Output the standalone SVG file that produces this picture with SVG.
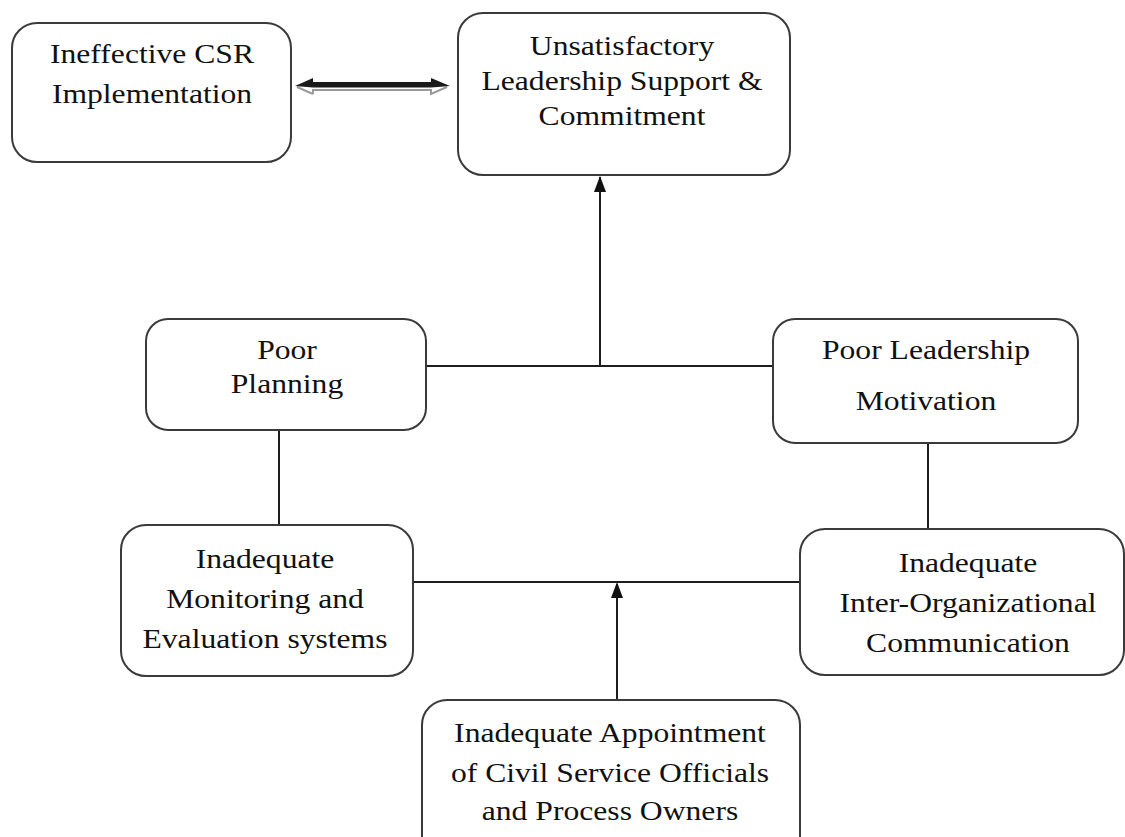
<svg xmlns="http://www.w3.org/2000/svg" width="1125" height="837" viewBox="0 0 1125 837">
  <defs>
    <style>
      .box { fill: #ffffff; stroke: #3a3a3a; stroke-width: 2; }
      .lbl { font-family: "Liberation Serif", "Times New Roman", serif; font-size: 28px; fill: #111111; text-anchor: middle; }
      .link { stroke: #1e1e1e; stroke-width: 2; fill: none; }
    </style>
    <marker id="head" viewBox="0 0 12 14" refX="6" refY="1" markerWidth="12" markerHeight="14" markerUnits="userSpaceOnUse" orient="auto-start-reverse">
      <path d="M6 0 L12 14 L0 14 Z" fill="#111111"/>
    </marker>
  </defs>

  <rect width="1125" height="837" fill="#ffffff"/>

  <!-- connectors -->
  <g id="connectors">
    <!-- two-way block arrow between the top boxes -->
    <g id="double-arrow">
      <polyline points="313,94 297,87" fill="none" stroke="#9a9a9a" stroke-width="2"/>
      <polyline points="313,94 313,90 431,90 431,94 447,87" fill="none" stroke="#9a9a9a" stroke-width="2"/>
      <polygon points="295,86 313,78 313,82 431,82 431,78 450,86 431,87.5 313,87.5" fill="#1a1a1a"/>
    </g>
    <!-- upper junction: Poor Planning / Poor Leadership Motivation -> leadership support -->
    <line class="link" x1="426" y1="366" x2="774" y2="366"/>
    <line class="link" x1="600" y1="366" x2="600" y2="177"/>
    <path d="M600 176 L606 192 L594 192 Z" fill="#111111"/>
    <!-- vertical ties to the lower boxes -->
    <line class="link" x1="279" y1="430" x2="279" y2="525" stroke="#555555"/>
    <line class="link" x1="928" y1="443" x2="928" y2="528"/>
    <!-- lower junction -->
    <line class="link" x1="413" y1="582" x2="800" y2="582"/>
    <line class="link" x1="617" y1="700" x2="617" y2="584"/>
    <path d="M617 582 L623 598 L611 598 Z" fill="#111111"/>
  </g>

  <g id="node-csr">
    <rect class="box" x="12" y="23" width="279" height="139" rx="25"/>
    <text class="lbl" transform="translate(152 0) scale(1.13 1)"><tspan x="0" y="63">Ineffective CSR</tspan><tspan x="0" y="103">Implementation</tspan></text>
  </g>

  <g id="node-leadership-support">
    <rect class="box" x="458" y="13" width="332" height="162" rx="25"/>
    <text class="lbl" transform="translate(622 0) scale(1.13 1)"><tspan x="0" y="55">Unsatisfactory</tspan><tspan x="0" y="90">Leadership Support &amp;</tspan><tspan x="0" y="125">Commitment</tspan></text>
  </g>

  <g id="node-poor-planning">
    <rect class="box" x="146" y="319" width="280" height="111" rx="22"/>
    <text class="lbl" transform="translate(287 0) scale(1.13 1)"><tspan x="0" y="359">Poor</tspan><tspan x="0" y="393">Planning</tspan></text>
  </g>

  <g id="node-poor-motivation">
    <rect class="box" x="773" y="319" width="305" height="124" rx="22"/>
    <text class="lbl" transform="translate(926 0) scale(1.13 1)"><tspan x="0" y="359">Poor Leadership</tspan><tspan x="0" y="410">Motivation</tspan></text>
  </g>

  <g id="node-monitoring">
    <rect class="box" x="121" y="525" width="292" height="151" rx="25"/>
    <text class="lbl" transform="translate(265 0) scale(1.13 1)"><tspan x="0" y="568">Inadequate</tspan><tspan x="0" y="608">Monitoring and</tspan><tspan x="0" y="648">Evaluation systems</tspan></text>
  </g>

  <g id="node-communication">
    <rect class="box" x="800" y="529" width="324" height="146" rx="25"/>
    <text class="lbl" transform="translate(968 0) scale(1.13 1)"><tspan x="0" y="572">Inadequate</tspan><tspan x="0" y="612">Inter-Organizational</tspan><tspan x="0" y="652">Communication</tspan></text>
  </g>

  <g id="node-appointment">
    <rect class="box" x="422" y="700" width="378" height="170" rx="25"/>
    <text class="lbl" transform="translate(610 0) scale(1.13 1)"><tspan x="0" y="742">Inadequate Appointment</tspan><tspan x="0" y="782">of Civil Service Officials</tspan><tspan x="0" y="820">and Process Owners</tspan></text>
  </g>
</svg>
